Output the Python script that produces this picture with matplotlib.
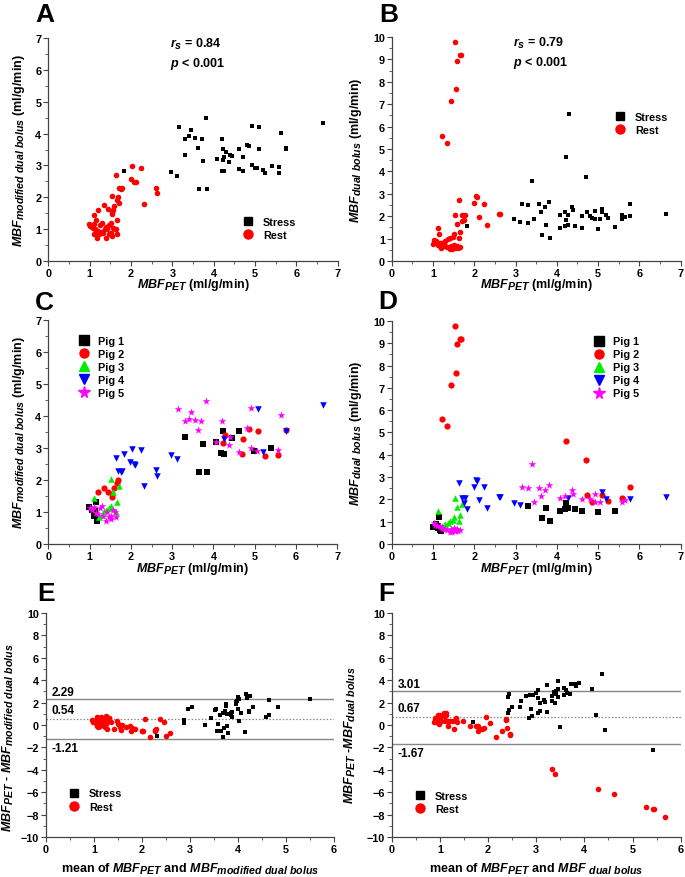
import matplotlib
matplotlib.use('Agg')
import matplotlib.pyplot as plt
import matplotlib._mathtext as mtext
import numpy as np
from matplotlib.ticker import MultipleLocator
from matplotlib.lines import Line2D

plt.rcParams['font.family'] = ['Liberation Sans', 'DejaVu Sans']
plt.rcParams['font.weight'] = 'bold'
plt.rcParams['mathtext.fontset'] = 'custom'
plt.rcParams['mathtext.rm'] = 'Liberation Sans:bold'
plt.rcParams['mathtext.it'] = 'Liberation Sans:italic:bold'
plt.rcParams['mathtext.bf'] = 'Liberation Sans:bold'
plt.rcParams['mathtext.default'] = 'it'
# Origin-style subscripts are bigger than the mathtext default
mtext.SHRINK_FACTOR = 0.85

# ---- data: MBF (ml/g/min) per pig, PET / modified dual bolus / dual bolus
p1_stress_pet = [3.30, 3.65, 3.74, 3.84, 4.07, 4.19, 4.23, 4.26, 4.45, 4.62, 4.99, 5.40]
p1_stress_mod = [3.34, 2.26, 3.13, 2.26, 3.20, 2.84, 3.52, 2.82, 3.30, 3.52, 2.92, 2.99]
p1_stress_dual = [1.70, 1.16, 1.62, 1.04, 1.49, 1.55, 1.84, 1.60, 1.55, 1.46, 1.44, 1.50]
p1_rest_pet = [0.99, 1.07, 1.11, 1.12, 1.15, 1.17, 1.19]
p1_rest_mod = [1.17, 1.05, 0.86, 1.02, 1.30, 0.81, 0.72]
p1_rest_dual = [0.76, 0.88, 0.80, 0.72, 1.20, 0.65, 0.60]

p2_stress_pet = [4.23, 4.29, 4.70, 4.72, 4.85, 5.09, 5.25, 5.57, 5.76]
p2_stress_mod = [3.16, 3.42, 2.82, 3.28, 3.60, 3.52, 2.75, 2.77, 3.55]
p2_stress_dual = [4.64, 6.56, 3.77, 2.19, 1.90, 2.20, 1.91, 2.07, 2.56]
p2_rest_pet = [1.21, 1.35, 1.44, 1.54, 1.55, 1.59, 1.66, 1.69]
p2_rest_mod = [1.61, 1.76, 1.64, 1.47, 1.55, 1.74, 1.91, 2.01]
p2_rest_dual = [5.59, 5.29, 7.13, 9.79, 7.68, 8.95, 9.18, 9.19]
# the 6.56 dual-bolus value does not show up in panel D of the figure
p2_stress_in_d = [True, False, True, True, True, True, True, True, True]

p3_stress_pet = []
p3_stress_mod = []
p3_stress_dual = []
p3_rest_pet = [1.11, 1.22, 1.30, 1.36, 1.40, 1.48, 1.51, 1.53, 1.57, 1.63, 1.66, 1.71]
p3_rest_mod = [1.44, 0.84, 0.92, 1.02, 1.07, 1.14, 1.20, 2.03, 1.61, 1.01, 1.30, 1.81]
p3_rest_dual = [1.46, 0.82, 0.90, 0.96, 1.02, 1.08, 1.20, 2.05, 1.67, 1.02, 1.31, 1.80]

p4_stress_pet = [1.83, 2.97, 3.11, 4.26, 5.09, 5.19, 5.76, 6.65]
p4_stress_mod = [2.81, 2.78, 2.66, 3.28, 4.21, 2.87, 3.52, 4.34]
p4_stress_dual = [1.55, 1.86, 1.74, 2.05, 2.32, 2.04, 2.01, 2.10]
p4_rest_pet = [1.63, 1.70, 1.76, 1.78, 1.99, 2.03, 2.07, 2.11, 2.24, 2.31, 2.61, 2.63]
p4_rest_mod = [2.70, 2.28, 2.26, 2.28, 2.57, 2.97, 2.49, 2.47, 2.93, 1.80, 2.30, 2.13]
p4_rest_dual = [2.72, 2.05, 1.82, 2.05, 2.57, 2.88, 2.84, 1.97, 2.54, 1.60, 2.12, 2.12]

p5_stress_pet = [3.15, 3.30, 3.40, 3.45, 3.56, 3.62, 3.71, 3.82, 4.07, 4.20,
                 4.37, 4.39, 4.62, 4.81, 4.92, 4.92, 5.05, 5.57, 5.64]
p5_stress_mod = [4.22, 3.84, 3.91, 4.12, 3.87, 3.55, 3.84, 4.48, 3.20, 3.84,
                 3.10, 3.33, 2.88, 3.64, 4.24, 3.01, 2.92, 2.94, 4.03]
p5_stress_dual = [2.56, 2.51, 3.59, 1.87, 2.53, 2.17, 2.43, 2.63, 2.07, 2.17,
                  2.40, 2.26, 2.02, 2.02, 2.22, 1.89, 1.87, 1.89, 1.96]
p5_rest_pet = [1.02, 1.06, 1.10, 1.16, 1.21, 1.25, 1.30, 1.33, 1.40, 1.43,
               1.46, 1.51, 1.53, 1.57, 1.61, 1.65]
p5_rest_mod = [1.11, 1.06, 1.15, 0.98, 0.95, 1.13, 1.18, 0.88, 0.73, 1.00,
               0.85, 0.88, 0.78, 1.05, 1.00, 0.84]
p5_rest_dual = [0.93, 0.85, 0.82, 0.79, 0.72, 0.68, 0.66, 0.64, 0.52, 0.66,
                0.55, 0.72, 0.60, 0.67, 0.58, 0.62]

pig_names = ['Pig 1', 'Pig 2', 'Pig 3', 'Pig 4', 'Pig 5']
rs_values = ['0.84', '0.79']
ba_mod = [2.29, 0.54, -1.21]     # upper limit, bias, lower limit
ba_dual = [3.01, 0.67, -1.67]

pigs = [
    (p1_stress_pet + p1_rest_pet, p1_stress_mod + p1_rest_mod, p1_stress_dual + p1_rest_dual),
    (p2_stress_pet + p2_rest_pet, p2_stress_mod + p2_rest_mod, p2_stress_dual + p2_rest_dual),
    (p3_stress_pet + p3_rest_pet, p3_stress_mod + p3_rest_mod, p3_stress_dual + p3_rest_dual),
    (p4_stress_pet + p4_rest_pet, p4_stress_mod + p4_rest_mod, p4_stress_dual + p4_rest_dual),
    (p5_stress_pet + p5_rest_pet, p5_stress_mod + p5_rest_mod, p5_stress_dual + p5_rest_dual),
]
shown_d = [None] * 5
shown_d[1] = p2_stress_in_d + [True] * len(p2_rest_pet)

stress_pet = np.array(p1_stress_pet + p2_stress_pet + p3_stress_pet + p4_stress_pet + p5_stress_pet)
stress_mod = np.array(p1_stress_mod + p2_stress_mod + p3_stress_mod + p4_stress_mod + p5_stress_mod)
stress_dual = np.array(p1_stress_dual + p2_stress_dual + p3_stress_dual + p4_stress_dual + p5_stress_dual)
rest_pet = np.array(p1_rest_pet + p2_rest_pet + p3_rest_pet + p4_rest_pet + p5_rest_pet)
rest_mod = np.array(p1_rest_mod + p2_rest_mod + p3_rest_mod + p4_rest_mod + p5_rest_mod)
rest_dual = np.array(p1_rest_dual + p2_rest_dual + p3_rest_dual + p4_rest_dual + p5_rest_dual)

pig_colors = ['#000000', '#ff0000', '#00ee00', '#0000ff', '#ff00ff']
pig_markers = ['s', 'o', '^', 'v', '*']
pig_sizes = [16, 20, 22, 22, 34]
AXC = '#444444'
W, H = 685, 878
LFS = 9


def box(l, r, b, t):
    return [l / W, 1 - b / H, (r - l) / W, (b - t) / H]


def style(ax, xmax, xminor, ylim, ymaj, ymin):
    ax.set_xlim(0, xmax)
    ax.set_ylim(*ylim)
    ax.xaxis.set_major_locator(MultipleLocator(1))
    ax.xaxis.set_minor_locator(MultipleLocator(xminor))
    ax.yaxis.set_major_locator(MultipleLocator(ymaj))
    ax.yaxis.set_minor_locator(MultipleLocator(ymin))
    for s in ['top', 'right']:
        ax.spines[s].set_visible(False)
    for s in ['left', 'bottom']:
        ax.spines[s].set_color(AXC)
        ax.spines[s].set_linewidth(0.9)
    ax.tick_params(which='major', direction='out', length=3.5, width=0.8, color=AXC,
                   labelsize=7.8, pad=1.5)
    ax.tick_params(which='minor', direction='out', length=2, width=0.6, color=AXC)
    for lab in ax.get_xticklabels() + ax.get_yticklabels():
        lab.set_fontweight('bold')


def sr_legend(ax, x, y):
    h = [Line2D([], [], marker='s', color='k', ls='none', markersize=5.5),
         Line2D([], [], marker='o', color='#ff0000', ls='none', markersize=6.5)]
    ax.legend(h, ['Stress', 'Rest'], loc='center left', bbox_to_anchor=(x, y),
              frameon=False, fontsize=7.8, handlelength=1.0, handletextpad=0.85,
              labelspacing=0.32, borderpad=0, borderaxespad=0)


def pig_legend(ax, x, y):
    h = [Line2D([], [], marker=m, color=c, ls='none', markersize=6.5 if m != '*' else 8.5)
         for m, c in zip(pig_markers, pig_colors)]
    ax.legend(h, pig_names, loc='center left', bbox_to_anchor=(x, y),
              frameon=False, fontsize=7.8, handlelength=1.0, handletextpad=0.85,
              labelspacing=0.28, borderpad=0, borderaxespad=0)


fig = plt.figure(figsize=(6.85, 8.78), dpi=100)
axA = fig.add_axes(box(48.3, 337.7, 262, 39))
axB = fig.add_axes(box(391.7, 680.7, 262, 38))
axC = fig.add_axes(box(48.3, 337.3, 545, 321))
axD = fig.add_axes(box(391.7, 680.7, 545, 322))
axE = fig.add_axes(box(46, 334, 838, 614))
axF = fig.add_axes(box(391.7, 680.7, 838, 614))

lab_pet = r'$MBF_{PET}$ (ml/g/min)'
lab_mod = r'$MBF_{modified\ dual\ bolus}$ (ml/g/min)'
lab_dual = r'$MBF_{dual\ bolus}$ (ml/g/min)'

# A / B : stress vs rest
for ax, ys, yr, ylim, rs in [(axA, stress_mod, rest_mod, (0, 7), rs_values[0]),
                              (axB, stress_dual, rest_dual, (0, 10), rs_values[1])]:
    ax.scatter(stress_pet, ys, marker='s', s=11, color='k', linewidths=0, zorder=3)
    ax.scatter(rest_pet, yr, marker='o', s=16, color='#ff0000', linewidths=0, zorder=3)
    style(ax, 7, 0.5, ylim, 1, 0.5)
    ax.set_xlabel(lab_pet, fontsize=LFS, fontweight='bold')
    ax.text(0.42, 0.975, r'$r_{s}$ = ' + rs, transform=ax.transAxes,
            fontsize=9, fontweight='bold', ha='left', va='center')
    ax.text(0.42, 0.89, r'$p$ < 0.001', transform=ax.transAxes,
            fontsize=9, fontweight='bold', ha='left', va='center')

axA.set_ylabel(lab_mod, fontsize=LFS, fontweight='bold')
axB.set_ylabel(lab_dual, fontsize=LFS, fontweight='bold')
sr_legend(axA, 0.672, 0.146)
sr_legend(axB, 0.772, 0.614)

# C / D : by pig
for ax, k, ylim in [(axC, 1, (0, 7)), (axD, 2, (0, 10))]:
    for i, (pig, c, m, s) in enumerate(zip(pigs, pig_colors, pig_markers, pig_sizes)):
        px, py = np.array(pig[0]), np.array(pig[k])
        if ax is axD and shown_d[i] is not None:
            mask = np.array(shown_d[i])
            px, py = px[mask], py[mask]
        ax.scatter(px, py, marker=m, s=s, color=c, linewidths=0, zorder=3)
    style(ax, 7, 0.5, ylim, 1, 0.5)
    ax.set_xlabel(lab_pet, fontsize=LFS, fontweight='bold')
axC.set_ylabel(lab_mod, fontsize=LFS, fontweight='bold')
axD.set_ylabel(lab_dual, fontsize=LFS, fontweight='bold')
pig_legend(axC, 0.104, 0.791)
pig_legend(axD, 0.697, 0.792)

# E / F : Bland-Altman
for ax, ys, yr, lims in [(axE, stress_mod, rest_mod, ba_mod),
                         (axF, stress_dual, rest_dual, ba_dual)]:
    ax.scatter((stress_pet + ys) / 2, stress_pet - ys, marker='s', s=11, color='k',
               linewidths=0, zorder=3)
    ax.scatter((rest_pet + yr) / 2, rest_pet - yr, marker='o', s=16, color='#ff0000',
               linewidths=0, zorder=3)
    style(ax, 6, 0.5, (-10, 10), 2, 1)
    ax.axhline(lims[0], color='#888888', lw=1.0, zorder=1)
    ax.axhline(lims[1], color='#888888', lw=0.9, ls=(0, (1.2, 1.5)), zorder=1)
    ax.axhline(lims[2], color='#888888', lw=1.0, zorder=1)
    ax.text(0.12, lims[0] + 0.15, '%.2f' % lims[0], fontsize=8.5, fontweight='bold',
            ha='left', va='bottom')
    ax.text(0.12, lims[1] + 0.3, '%.2f' % lims[1], fontsize=8.5, fontweight='bold',
            ha='left', va='bottom')
    ax.text(0.12, lims[2] - 0.3, '%.2f' % lims[2], fontsize=8.5, fontweight='bold',
            ha='left', va='top')

axE.set_ylabel(r'$MBF_{PET}$ - $MBF_{modified\ dual\ bolus}$', fontsize=LFS, fontweight='bold')
axF.set_ylabel(r'$MBF_{PET}$ -$MBF_{dual\ bolus}$', fontsize=LFS, fontweight='bold')
axE.set_xlabel(r'mean of $MBF_{PET}$ and $MBF_{modified\ dual\ bolus}$',
               fontsize=LFS, fontweight='bold')
axF.set_xlabel(r'mean of $MBF_{PET}$ and $MBF\ {}_{dual\ bolus}$',
               fontsize=LFS, fontweight='bold')
sr_legend(axE, 0.079, 0.165)
sr_legend(axF, 0.080, 0.154)

# label positions
axA.yaxis.set_label_coords(-0.072, 0.5)
axB.yaxis.set_label_coords(-0.096, 0.5)
axC.yaxis.set_label_coords(-0.073, 0.5)
axD.yaxis.set_label_coords(-0.096, 0.5)
axE.yaxis.set_label_coords(-0.104, 0.45)
axF.yaxis.set_label_coords(-0.117, 0.46)
axA.xaxis.set_label_coords(0.5, -0.068)
axB.xaxis.set_label_coords(0.5, -0.068)
axC.xaxis.set_label_coords(0.5, -0.072)
axD.xaxis.set_label_coords(0.5, -0.072)
axE.xaxis.set_label_coords(0.5, -0.105)
axF.xaxis.set_label_coords(0.5, -0.105)

# panel letters
for s, l, t in [('A', 35, 3), ('B', 379, 3), ('C', 35, 291),
                ('D', 378, 290), ('E', 37, 582), ('F', 378, 582)]:
    fig.text(l / W, 1 - t / H, s, fontsize=19, fontweight='bold', ha='left', va='top')

fig.savefig('out.png', dpi=100)
